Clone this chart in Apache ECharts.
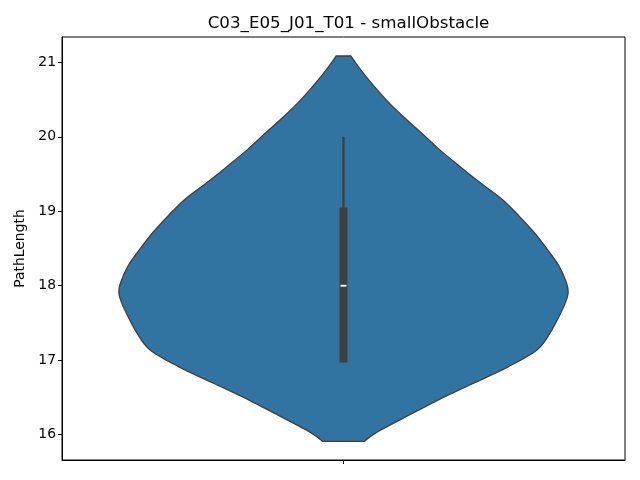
<!DOCTYPE html>
<html>
<head>
<meta charset="utf-8">
<title>C03_E05_J01_T01 - smallObstacle</title>
<script src="https://cdn.jsdelivr.net/npm/echarts@6/dist/echarts.min.js"></script>
<style>
  html, body { margin: 0; padding: 0; background: #fff; }
  #chart { width: 640px; height: 480px; }
</style>
</head>
<body>
<div id="chart"></div>
<script>
// one group at x = 0, no label under its tick
const categories = [0];
const xTicks = [0];
const yTicks = [16, 17, 18, 19, 20, 21];

// violin outline: PathLength and half width (in x units, group width is 1)
const densityY = [21.085, 20.906, 20.727, 20.503, 20.278, 20.055, 19.831, 19.606, 19.383, 19.159,
  18.934, 18.711, 18.487, 18.262, 18.039, 17.905, 17.770, 17.590, 17.367, 17.142,
  16.918, 16.695, 16.515, 16.426, 16.313, 16.202, 16.067, 15.977, 15.910];
const densityHalf = [0.013, 0.030, 0.049, 0.075, 0.105, 0.138, 0.170, 0.206, 0.243, 0.282,
  0.312, 0.339, 0.362, 0.383, 0.396, 0.399, 0.394, 0.383, 0.367, 0.344,
  0.294, 0.232, 0.181, 0.158, 0.129, 0.101, 0.067, 0.048, 0.037];

// inner box: low whisker, q1, median, q3, high whisker
const boxStats = [16.97, 16.97, 18.0, 19.05, 20.0];

const font = 'DejaVu Sans';
const chart = echarts.init(document.getElementById('chart'));

// smooth path through the points (catmull-rom turned into cubic beziers)
function curveTo(pts) {
  let d = '';
  for (let i = 0; i < pts.length - 1; i++) {
    const p0 = pts[Math.max(i - 1, 0)], p1 = pts[i], p2 = pts[i + 1], p3 = pts[Math.min(i + 2, pts.length - 1)];
    const c1 = [p1[0] + (p2[0] - p0[0]) / 6, p1[1] + (p2[1] - p0[1]) / 6];
    const c2 = [p2[0] - (p3[0] - p1[0]) / 6, p2[1] - (p3[1] - p1[1]) / 6];
    d += ' C' + c1[0] + ' ' + c1[1] + ' ' + c2[0] + ' ' + c2[1] + ' ' + p2[0] + ' ' + p2[1];
  }
  return d;
}

chart.setOption({
  animation: false,
  title: {
    text: 'C03_E05_J01_T01 - smallObstacle',
    left: 343.5,
    top: 10,
    textAlign: 'center',
    textStyle: { fontFamily: font, fontSize: 16.7, fontWeight: 'normal', color: '#000' }
  },
  grid: {
    left: 62, right: 15, top: 37, bottom: 20,
    show: true, borderColor: '#000', borderWidth: 1
  },
  xAxis: {
    type: 'value',
    min: -0.5,
    max: 0.5,
    axisLine: { show: true, onZero: false, lineStyle: { color: '#000', width: 1 } },
    axisTick: { show: true, length: 4, customValues: xTicks, lineStyle: { color: '#000' } },
    axisLabel: { show: false },
    splitLine: { show: false }
  },
  yAxis: {
    type: 'value',
    min: 15.66,
    max: 21.34,
    name: 'PathLength',
    nameLocation: 'middle',
    nameGap: 34,
    nameTextStyle: { fontFamily: font, fontSize: 13.9, color: '#000' },
    axisLine: { show: true, onZero: false, lineStyle: { color: '#000', width: 1 } },
    axisTick: { show: true, length: 4, customValues: yTicks, lineStyle: { color: '#000' } },
    axisLabel: { customValues: yTicks, fontFamily: font, fontSize: 13.9, color: '#000', margin: 6 },
    splitLine: { show: false }
  },
  series: [
    {
      // violin body
      type: 'custom',
      data: categories.map(c => [c, boxStats[2]]),
      renderItem: function (params, api) {
        const cat = api.value(0);
        const unit = api.size([1, 0])[0];
        const left = [], right = [];
        for (let i = 0; i < densityY.length; i++) {
          const p = api.coord([cat, densityY[i]]);
          const w = densityHalf[i] * unit;
          left.push([p[0] - w, p[1]]);
          right.push([p[0] + w, p[1]]);
        }
        right.reverse();
        const d = 'M' + left[0][0] + ' ' + left[0][1] + curveTo(left) +
          ' L' + right[0][0] + ' ' + right[0][1] + curveTo(right) + ' Z';
        return {
          type: 'path',
          shape: { pathData: d },
          style: { fill: '#3274a1', stroke: '#3f3f3f', lineWidth: 1.3 }
        };
      }
    },
    {
      // inner box, whisker and median
      type: 'custom',
      data: categories.map(c => [c, boxStats[2]]),
      renderItem: function (params, api) {
        const cat = api.value(0);
        const lo = api.coord([cat, boxStats[0]]);
        const b1 = api.coord([cat, boxStats[1]]);
        const md = api.coord([cat, boxStats[2]]);
        const b3 = api.coord([cat, boxStats[3]]);
        const hi = api.coord([cat, boxStats[4]]);
        const cx = md[0];
        return {
          type: 'group',
          children: [
            { type: 'rect', shape: { x: cx - 1.2, y: hi[1], width: 2.4, height: lo[1] - hi[1] },
              style: { fill: '#3f3f3f' } },
            { type: 'rect', shape: { x: cx - 4, y: b3[1], width: 8, height: b1[1] - b3[1] },
              style: { fill: '#3f3f3f' } },
            { type: 'rect', shape: { x: cx - 3, y: md[1] - 1, width: 6, height: 2 },
              style: { fill: '#eeeeee' } }
          ]
        };
      }
    }
  ]
});
</script>
</body>
</html>
